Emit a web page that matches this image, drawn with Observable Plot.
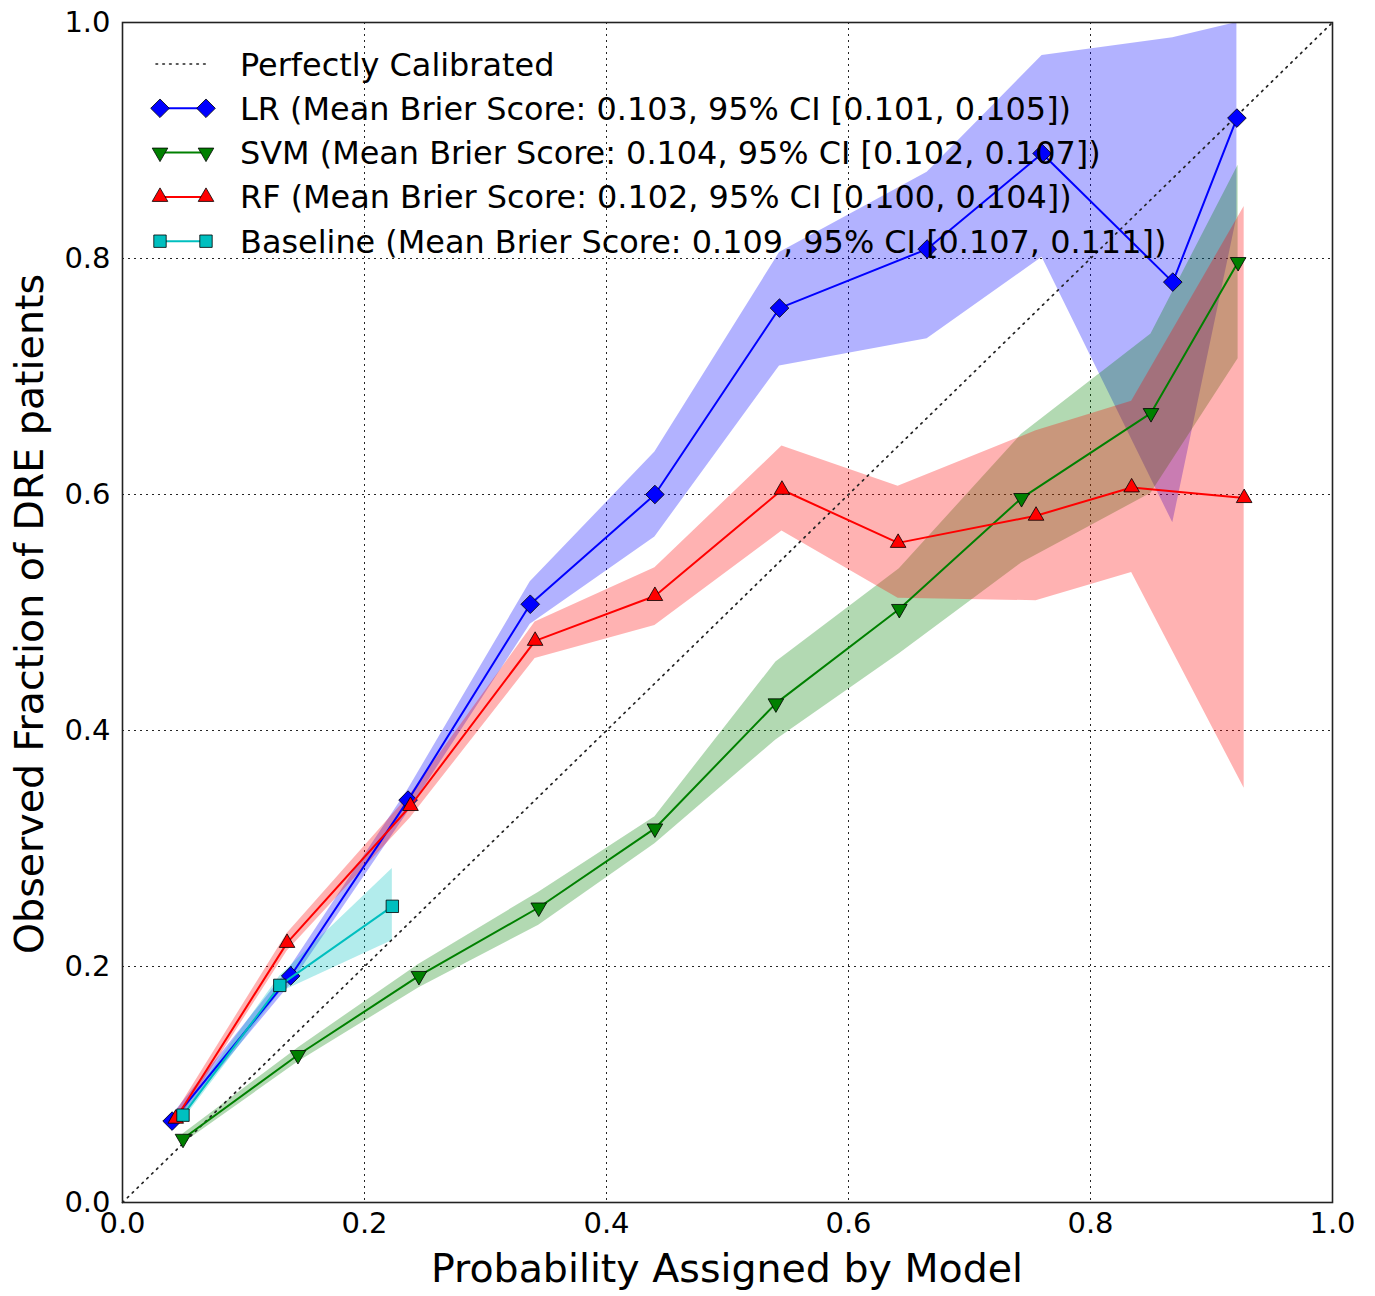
<!DOCTYPE html>
<html>
<head>
<meta charset="utf-8">
<script src="https://cdn.jsdelivr.net/npm/d3@7"></script>
<script src="https://cdn.jsdelivr.net/npm/@observablehq/plot@0.6"></script>
<style>
  html, body { margin: 0; padding: 0; background: #fff; }
  #chart svg { display: block; }
</style>
</head>
<body>
<div id="chart"></div>
<script>
// ---- data ----
const ticks = [0.0, 0.2, 0.4, 0.6, 0.8, 1.0];
const diagonal = [0, 1];

const lrX  = [0.041, 0.139, 0.236, 0.337, 0.440, 0.543, 0.665, 0.760, 0.868, 0.921];
const lrY  = [0.069, 0.192, 0.341, 0.507, 0.600, 0.758, 0.808, 0.889, 0.780, 0.919];
const lrLo = [0.064, 0.185, 0.331, 0.490, 0.564, 0.709, 0.732, 0.801, 0.576, 0.835];
const lrHi = [0.074, 0.200, 0.350, 0.526, 0.636, 0.805, 0.873, 0.972, 0.987, 1.000];

const svmX  = [0.050, 0.145, 0.245, 0.344, 0.440, 0.540, 0.642, 0.743, 0.850, 0.922];
const svmY  = [0.054, 0.125, 0.192, 0.250, 0.317, 0.423, 0.503, 0.597, 0.669, 0.797];
const svmLo = [0.050, 0.119, 0.182, 0.235, 0.304, 0.392, 0.465, 0.542, 0.601, 0.715];
const svmHi = [0.058, 0.131, 0.202, 0.263, 0.327, 0.458, 0.537, 0.651, 0.736, 0.879];

const rfX  = [0.044, 0.136, 0.238, 0.341, 0.440, 0.545, 0.641, 0.755, 0.834, 0.927];
const rfY  = [0.071, 0.220, 0.336, 0.476, 0.514, 0.604, 0.559, 0.582, 0.606, 0.597];
const rfLo = [0.066, 0.213, 0.326, 0.461, 0.489, 0.569, 0.512, 0.510, 0.534, 0.351];
const rfHi = [0.076, 0.228, 0.346, 0.492, 0.538, 0.641, 0.607, 0.654, 0.679, 0.844];

const baseX  = [0.050, 0.130, 0.223];
const baseY  = [0.074, 0.184, 0.251];
const baseLo = [0.070, 0.178, 0.222];
const baseHi = [0.078, 0.192, 0.283];

const legendLabels = [
  "Perfectly Calibrated",
  "LR (Mean Brier Score: 0.103, 95% CI [0.101, 0.105])",
  "SVM (Mean Brier Score: 0.104, 95% CI [0.102, 0.107])",
  "RF (Mean Brier Score: 0.102, 95% CI [0.100, 0.104])",
  "Baseline (Mean Brier Score: 0.109, 95% CI [0.107, 0.111])"
];

// ---- build tables ----
const toRows = (xs, ys, lo, hi) => xs.map((x, i) => ({x, y: ys[i], lo: lo[i], hi: hi[i]}));
const series = [
  {name: "LR",  color: "#0000ff", rows: toRows(lrX, lrY, lrLo, lrHi),   symbol: "diamond2", r: 8.4, rotate: 0},
  {name: "SVM", color: "#008000", rows: toRows(svmX, svmY, svmLo, svmHi), symbol: "triangle", r: 5.8, rotate: 180},
  {name: "RF",  color: "#ff0000", rows: toRows(rfX, rfY, rfLo, rfHi),   symbol: "triangle", r: 5.8, rotate: 0},
  {name: "Baseline", color: "#00bfbf", rows: toRows(baseX, baseY, baseLo, baseHi), symbol: "square", r: 7.0, rotate: 0}
];

const bands = series.map(s => Plot.areaY(s.rows, {
  x: "x", y1: "lo", y2: "hi", fill: s.color, fillOpacity: 0.3, curve: "linear"
}));
const lines = series.flatMap(s => [
  Plot.line(s.rows, {x: "x", y: "y", stroke: s.color, strokeWidth: 2}),
  Plot.dot(s.rows, {x: "x", y: "y", symbol: s.symbol, r: s.r, rotate: s.rotate,
    fill: s.color, stroke: "black", strokeWidth: 0.8})
]);

const W = 1375, H = 1296;
const plot = Plot.plot({
  width: W, height: H,
  marginLeft: 122, marginRight: 43, marginTop: 22, marginBottom: 94,
  style: {fontFamily: "DejaVu Sans", fontSize: "29px", color: "#000", background: "#fff"},
  x: {domain: [0, 1]},
  y: {domain: [0, 1]},
  marks: [
    Plot.gridX(ticks, {stroke: "#000", strokeOpacity: 0.85, strokeWidth: 1, strokeDasharray: "2,4"}),
    Plot.gridY(ticks, {stroke: "#000", strokeOpacity: 0.85, strokeWidth: 1, strokeDasharray: "2,4"}),
    ...bands,
    Plot.line(diagonal, {x: d => d, y: d => d, stroke: "#222", strokeWidth: 1.7,
      strokeDasharray: "1.6,5.2", strokeLinecap: "round"}),
    ...lines,
    Plot.frame({stroke: "#222", strokeWidth: 1.6}),
    Plot.axisX(ticks, {tickSize: 0, tickPadding: 10, tickFormat: d3.format(".1f"),
      fontSize: 29, label: null}),
    Plot.axisY(ticks, {tickSize: 0, tickPadding: 12, tickFormat: d3.format(".1f"),
      fontSize: 29, label: null})
  ]
});
document.getElementById("chart").appendChild(plot);

// ---- axis titles and legend (text drawn on the same svg) ----
const svg = d3.select(plot);
svg.append("text")
  .attr("x", 727).attr("y", 1282)
  .attr("text-anchor", "middle")
  .style("font-family", "DejaVu Sans").style("font-size", "39.5px").attr("fill", "#000")
  .text("Probability Assigned by Model");
svg.append("text")
  .attr("transform", "translate(43,614) rotate(-90)")
  .attr("text-anchor", "middle")
  .style("font-family", "DejaVu Sans").style("font-size", "39.5px").attr("fill", "#000")
  .text("Observed Fraction of DRE patients");

const lg = svg.append("g").style("font-family", "DejaVu Sans");
const rowY = i => 64 + i * 44.3;
const sx1 = 160, sx2 = 206, tx = 240;
// perfectly calibrated entry
lg.append("line").attr("x1", sx1 - 4).attr("x2", sx2 + 4).attr("y1", rowY(0)).attr("y2", rowY(0))
  .attr("stroke", "#222").attr("stroke-width", 1.6).attr("stroke-dasharray", "1.6,5.2").attr("stroke-linecap", "round");
const symMap = {diamond2: d3.symbolDiamond2, triangle: d3.symbolTriangle, square: d3.symbolSquare};
series.forEach((s, i) => {
  const y = rowY(i + 1);
  lg.append("line").attr("x1", sx1).attr("x2", sx2).attr("y1", y).attr("y2", y)
    .attr("stroke", s.color).attr("stroke-width", 2);
  const path = d3.symbol(symMap[s.symbol], Math.PI * s.r * s.r)();
  [sx1, sx2].forEach(px => {
    lg.append("path").attr("d", path)
      .attr("transform", `translate(${px},${y}) rotate(${s.rotate})`)
      .attr("fill", s.color).attr("stroke", "black").attr("stroke-width", 0.8);
  });
});
legendLabels.forEach((t, i) => {
  lg.append("text").attr("x", tx).attr("y", rowY(i) + 11.5)
    .attr("text-anchor", "start")
    .style("font-size", "31.9px").attr("fill", "#000").text(t);
});
</script>
</body>
</html>
